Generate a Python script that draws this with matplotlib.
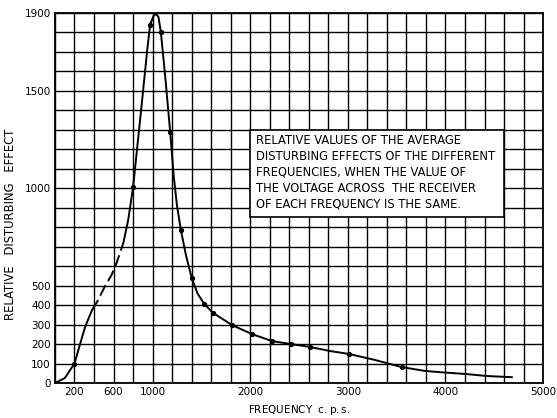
import numpy as np
import matplotlib.pyplot as plt
from matplotlib.ticker import MultipleLocator, FixedLocator
from matplotlib.patches import Rectangle

# curve (frequency in c.p.s., relative disturbing effect)
freq = [20, 100, 200, 260, 310, 380, 430, 510, 580, 630, 700, 750, 800, 890,
        945, 975, 1010, 1035, 1060, 1085, 1130, 1180, 1215, 1250, 1290, 1340,
        1400, 1460, 1530, 1620, 1815, 2020, 2225, 2420, 2615, 2820, 3015, 3280,
        3550, 3790, 3960, 4215, 4420, 4680]
effect = [5, 25, 100, 205, 290, 375, 415, 495, 555, 615, 718, 837, 1005, 1438,
          1710, 1840, 1885, 1895, 1880, 1800, 1570, 1290, 1070, 910, 785, 660,
          540, 460, 405, 360, 297, 251, 215, 200, 185, 164, 149, 118,
          82, 62, 55, 46, 36, 30]

# points that carry a dot on the original
dot_freq = [200, 800, 975, 1085, 1180, 1290, 1400, 1530, 1620, 1815, 2020,
            2225, 2420, 2615, 3015, 3550]

xtick_vals = [200, 600, 1000, 2000, 3000, 4000, 5000]
ytick_vals = [0, 100, 200, 300, 400, 500, 1000, 1500, 1900]

note = ("RELATIVE VALUES OF THE AVERAGE\n"
        "DISTURBING EFFECTS OF THE DIFFERENT\n"
        "FREQUENCIES, WHEN THE VALUE OF\n"
        "THE VOLTAGE ACROSS  THE RECEIVER\n"
        "OF EACH FREQUENCY IS THE SAME.")

plt.rcParams['font.family'] = 'DejaVu Sans'

fig = plt.figure(figsize=(5.57, 4.18), dpi=100)
ax = fig.add_axes([0.0987, 0.0837, 0.8763, 0.8853])

ax.set_xlim(0, 5000)
ax.set_ylim(0, 1900)

ax.xaxis.set_major_locator(FixedLocator(xtick_vals))
ax.yaxis.set_major_locator(FixedLocator(ytick_vals))
ax.xaxis.set_minor_locator(MultipleLocator(200))
ax.yaxis.set_minor_locator(MultipleLocator(100))
ax.tick_params(which='both', length=0, labelsize=7.5, pad=3)
ax.grid(True, which='both', color='black', linewidth=1.0)
ax.set_axisbelow(True)
for s in ax.spines.values():
    s.set_linewidth(1.3)

f = np.array(freq)
e = np.array(effect)
solid1 = f <= 380
dash = (f >= 380) & (f <= 700)
solid2 = f >= 700
ax.plot(f[solid1], e[solid1], color='black', lw=1.4, zorder=4)
ax.plot(f[dash], e[dash], color='black', lw=1.4, dashes=(6, 2.5), zorder=4)
ax.plot(f[solid2], e[solid2], color='black', lw=1.4, zorder=4)
dot_e = np.interp(dot_freq, f, e)
ax.plot(dot_freq, dot_e, 'o', color='black', ms=2.8, zorder=5)

ax.add_patch(Rectangle((2000, 850), 2600, 450, facecolor='white',
                       edgecolor='black', lw=1.2, zorder=3))
ax.text(2060, 1280, note, fontsize=8.3, va='top', ha='left',
        linespacing=1.3, zorder=6)

ax.set_ylabel("RELATIVE   DISTURBING   EFFECT", fontsize=8.3)
ax.yaxis.set_label_coords(-0.078, 0.43)
ax.set_xlabel("FREQUENCY  $\\mathregular{c.p.s.}$", fontsize=7.5, labelpad=4)

fig.savefig("out.png", dpi=100)
